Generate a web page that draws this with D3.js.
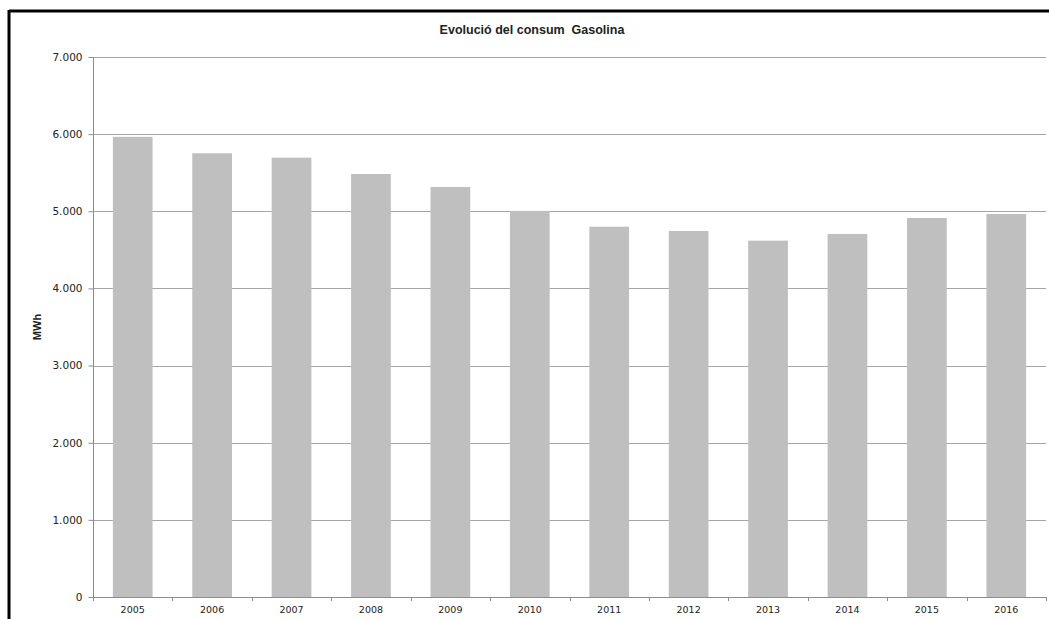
<!DOCTYPE html>
<html><head><meta charset="utf-8">
<script src="https://cdn.jsdelivr.net/npm/d3@7"></script>
<style>body{margin:0;background:#fff}svg{display:block}</style>
</head><body>
<script>
const years = ["2005","2006","2007","2008","2009","2010","2011","2012","2013","2014","2015","2016"];
const values = [5965,5752,5695,5483,5315,5005,4800,4745,4619,4706,4913,4965];
const yTicks = [0,1000,2000,3000,4000,5000,6000,7000];
const title = "Evolució del consum  Gasolina";
const yLabel = "MWh";

const W = 1049, H = 619;
const svg = d3.select("body").append("svg").attr("width", W).attr("height", H);
svg.append("rect").attr("width", W).attr("height", H).attr("fill", "#fff");

// outer border (top & left visible)
svg.append("line").attr("x1", 9).attr("x2", W).attr("y1", 11).attr("y2", 11).attr("stroke", "#000").attr("stroke-width", 3);
svg.append("line").attr("x1", 9).attr("x2", 9).attr("y1", 10).attr("y2", H).attr("stroke", "#000").attr("stroke-width", 3);

const m = {left: 93, right: 1046, top: 57, bottom: 597};
const x = d3.scaleBand().domain(years).range([m.left, m.right]).paddingInner(0.5).paddingOuter(0.25);
const y = d3.scaleLinear().domain([0, 7000]).range([m.bottom, m.top]);
const fmt = v => d3.format(",")(v).replace(/,/g, ".");

// gridlines
svg.append("g").selectAll("line").data(yTicks.filter(d => d > 0)).join("line")
  .attr("x1", m.left).attr("x2", m.right)
  .attr("y1", d => Math.round(y(d)) + 0.5).attr("y2", d => Math.round(y(d)) + 0.5)
  .attr("stroke", "#a6a6a6").attr("stroke-width", 1);

// bars
svg.append("g").selectAll("rect").data(values).join("rect")
  .attr("x", (d, i) => x(years[i])).attr("width", x.bandwidth())
  .attr("y", d => y(d)).attr("height", d => y(0) - y(d))
  .attr("fill", "#bfbfbf");

// y axis
const ya = svg.append("g").attr("transform", `translate(${m.left + 0.5},0)`)
  .call(d3.axisLeft(y).tickValues(yTicks).tickFormat(fmt).tickSize(5).tickPadding(6));
ya.select(".domain").attr("stroke", "#8c8c8c").attr("d", `M0,${m.top}V${m.bottom}`);
ya.selectAll(".tick line").attr("stroke", "#8c8c8c");
ya.selectAll("text").attr("font-family", "Verdana, 'DejaVu Sans', sans-serif").attr("font-size", 10.5).attr("fill", "#222");

// x axis with ticks between categories
const step = x.step();
const bounds = d3.range(years.length + 1).map(i => m.left + i * (m.right - m.left) / years.length);
const xg = svg.append("g");
xg.append("line").attr("x1", m.left).attr("x2", m.right).attr("y1", m.bottom + 0.5).attr("y2", m.bottom + 0.5).attr("stroke", "#8c8c8c");
xg.selectAll("line.t").data(bounds).join("line").attr("class", "t")
  .attr("x1", d => Math.round(d) + 0.5).attr("x2", d => Math.round(d) + 0.5)
  .attr("y1", m.bottom).attr("y2", m.bottom + 4).attr("stroke", "#8c8c8c");
xg.selectAll("text").data(years).join("text")
  .attr("x", d => x(d) + x.bandwidth() / 2).attr("y", 613)
  .attr("text-anchor", "middle").attr("font-family", "Tahoma, 'DejaVu Sans', sans-serif")
  .attr("font-size", 9.5).attr("fill", "#222").text(d => d);

// title
svg.append("text").attr("x", 532).attr("y", 34).attr("text-anchor", "middle")
  .attr("font-family", "Arial, 'Liberation Sans', sans-serif").attr("font-weight", "bold")
  .attr("font-size", 12.5).attr("fill", "#222").style("white-space", "pre").text(title);

// y label
svg.append("text").attr("transform", "translate(41,327) rotate(-90)").attr("text-anchor", "middle")
  .attr("font-family", "Arial, 'Liberation Sans', sans-serif").attr("font-weight", "bold")
  .attr("font-size", 11).attr("fill", "#222").text(yLabel);
</script>
</body></html>
